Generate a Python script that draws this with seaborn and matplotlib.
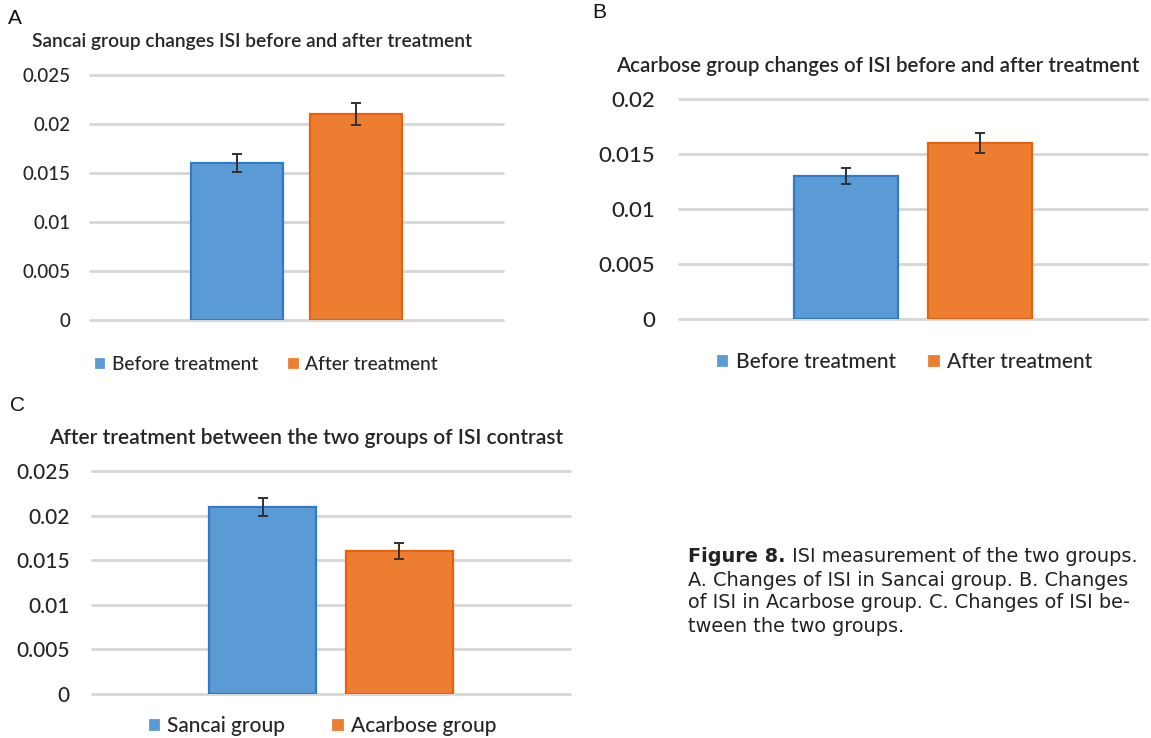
import matplotlib
matplotlib.use("Agg")
import matplotlib.pyplot as plt
import pandas as pd
import seaborn as sns

# ---- data -------------------------------------------------------------
# A: Sancai group, ISI before vs. after treatment
a_series = ["Before treatment", "After treatment"]
a_values = [0.016, 0.021]
a_errors = [0.0009, 0.0011]
a_title = "Sancai group changes ISI before and after treatment"
a_ticks = [0, 0.005, 0.01, 0.015, 0.02, 0.025]

# B: Acarbose group, ISI before vs. after treatment
b_series = ["Before treatment", "After treatment"]
b_values = [0.013, 0.016]
b_errors = [0.0007, 0.0009]
b_title = "Acarbose group changes of ISI before and after treatment"
b_ticks = [0, 0.005, 0.01, 0.015, 0.02]

# C: the two groups after treatment
c_series = ["Sancai group", "Acarbose group"]
c_values = [0.021, 0.016]
c_errors = [0.001, 0.0009]
c_title = "After treatment between the two groups of ISI contrast"
c_ticks = [0, 0.005, 0.01, 0.015, 0.02, 0.025]

caption_head = "Figure 8."
caption_lines = [
    " ISI measurement of the two groups.",
    "A. Changes of ISI in Sancai group. B. Changes",
    "of ISI in Acarbose group. C. Changes of ISI be-",
    "tween the two groups.",
]

# ---- style ------------------------------------------------------------
W, H = 1151, 738
FILLS = ["#5B9BD5", "#ED7D31"]
EDGES = ["#2F7BC8", "#E9600E"]
GRID = "#D6D6D6"
TXT = "#262626"
CHART_FONT = "Lato"

sns.set_theme(style="white")
plt.rcParams["font.family"] = [CHART_FONT, "DejaVu Sans"]

fig = plt.figure(figsize=(W / 100, H / 100), dpi=100)
fig.patch.set_facecolor("white")


def fx(x):
    return x / W


def fy(y):
    return 1 - y / H


def panel(box, series, values, errors, ticks, title, title_xy, title_fs,
          tick_fs, tick_pad, legend_xy, legend_fs, col_space):
    left, top, right, bottom = box
    ax = fig.add_axes([fx(left), fy(bottom), fx(right - left), (bottom - top) / H])
    df = pd.DataFrame({"grp": ["ISI"] * len(series), "series": series, "value": values})
    sns.barplot(data=df, x="grp", y="value", hue="series", hue_order=series,
                palette=FILLS, saturation=1, width=0.573, gap=0.22,
                errorbar=None, linewidth=1.6, ax=ax, legend=True)
    centers = []
    for cont, ec in zip(ax.containers, EDGES):
        for bar in cont:
            bar.set_edgecolor(ec)
            centers.append(bar.get_x() + bar.get_width() / 2)
    ax.errorbar(centers, values, yerr=errors, fmt="none", ecolor="#303030",
                elinewidth=1.4, capsize=3.5, capthick=1.4, zorder=5)

    ax.set_xlim(-0.5, 0.5)
    ax.set_ylim(0, ticks[-1])
    ax.set_yticks(ticks)
    ax.set_yticklabels([f"{t:g}" for t in ticks], fontweight="medium")
    ax.set_xticks([])
    ax.set_xlabel("")
    ax.set_ylabel("")
    ax.tick_params(axis="y", length=0, pad=tick_pad, labelsize=tick_fs, labelcolor=TXT)
    for s in ax.spines.values():
        s.set_visible(False)
    ax.yaxis.grid(True, color=GRID, linewidth=2.0)
    for gl in ax.get_ygridlines():
        gl.set_clip_on(False)
    ax.set_axisbelow(True)

    handles, labels = ax.get_legend_handles_labels()
    ax.get_legend().remove()
    fig.legend(handles, labels, loc="center", ncol=2, frameon=False,
               bbox_to_anchor=(fx(legend_xy[0]), fy(legend_xy[1])),
               prop={"size": legend_fs, "weight": "medium"},
               handlelength=0.65, handleheight=0.65,
               handletextpad=0.3, columnspacing=col_space, labelcolor=TXT)

    fig.text(fx(title_xy[0]), fy(title_xy[1]), title, ha="center", va="center",
             fontsize=title_fs, fontweight="semibold", color=TXT)
    return ax


panel((90, 75, 503, 320), a_series, a_values, a_errors, a_ticks, a_title,
      (252, 42), 13.8, 13.5, 14, (266, 365), 13.8, 1.5)
panel((679, 99, 1147, 319), b_series, b_values, b_errors, b_ticks, b_title,
      (878, 66), 14.8, 16, 17, (904, 362), 15, 1.5)
panel((92, 471, 570, 694), c_series, c_values, c_errors, c_ticks, c_title,
      (306, 438), 15.1, 15, 16, (322, 726), 15, 2.2)

# panel letters
for letter, (x, y) in zip("ABC", [(8, 19), (592, 13), (10, 405)]):
    fig.text(fx(x), fy(y), letter, ha="left", va="center", fontsize=15,
             family="Liberation Sans", color="#111111")

# caption
cap_x, cap_y0, cap_dy = 688, 557, 23
cap_fs = 13.9
cap_font = "DejaVu Sans"
renderer = fig.canvas.get_renderer()
head = fig.text(fx(cap_x), fy(cap_y0), caption_head, ha="left", va="center",
                fontsize=cap_fs, fontweight="bold", family=cap_font, color="#222222")
head_w = head.get_window_extent(renderer).width
fig.text(fx(cap_x + head_w), fy(cap_y0), caption_lines[0], ha="left", va="center",
         fontsize=cap_fs, family=cap_font, color="#222222")
for i, line in enumerate(caption_lines[1:], start=1):
    fig.text(fx(cap_x), fy(cap_y0 + i * cap_dy), line, ha="left", va="center",
             fontsize=cap_fs, family=cap_font, color="#222222")

fig.savefig("out.png", dpi=100, facecolor="white")
